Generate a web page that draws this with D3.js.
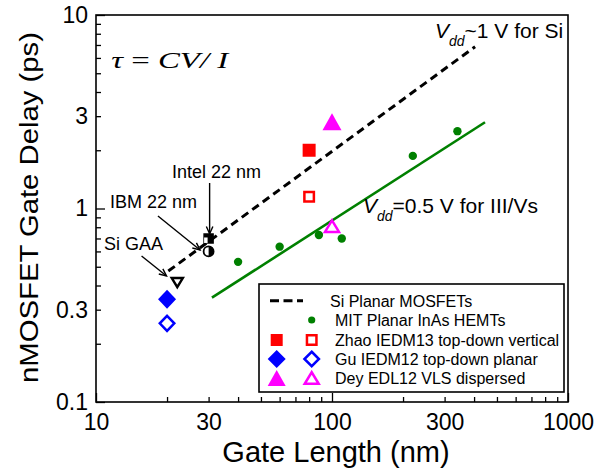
<!DOCTYPE html>
<html><head><meta charset="utf-8">
<script src="https://cdn.jsdelivr.net/npm/d3@7"></script>
<style>
body{margin:0;background:#fff}
svg{display:block}
text{font-family:"Liberation Sans",Arial,sans-serif;fill:#000}
text.serif{font-family:"Liberation Serif","Times New Roman",serif}
</style>
</head><body>
<svg id="chart" width="605" height="472"></svg>
<script>
// ---------- data ----------
const xTickLabels = [10, 30, 100, 300, 1000];
const yTickLabels = [0.1, 0.3, 1, 3, 10];

const mitLength = [40, 60, 88, 110, 220, 340];
const mitDelay  = [0.53, 0.635, 0.73, 0.70, 1.87, 2.51];

const siTrendLength = [20.25, 404];
const siTrendDelay  = [0.475, 6.86];

const mitFitLength = [31, 445];
const mitFitDelay  = [0.346, 2.79];

const siDeviceNames  = ["Intel 22 nm", "IBM 22 nm", "Si GAA"];
const siDeviceLength = [30, 30, 22.1];
const siDeviceDelay  = [0.70, 0.60, 0.414];

const zhaoLength = [80];  const zhaoFilled = [2.0];  const zhaoOpen = [1.15];
const guLength   = [20];  const guFilled   = [0.34]; const guOpen   = [0.255];
const deyLength  = [100]; const deyFilled  = [2.81]; const deyOpen  = [0.81];

const legendLabels = ["Si Planar MOSFETs", "MIT Planar InAs HEMTs",
  "Zhao IEDM13 top-down vertical", "Gu IEDM12 top-down planar", "Dey EDL12 VLS dispersed"];

// ---------- setup ----------
const svg = d3.select("#chart");
const L = 96, R = 568, T = 15, B = 402;
const x = d3.scaleLog().domain([10, 1000]).range([L, R]);
const y = d3.scaleLog().domain([0.1, 10]).range([B, T]);

const RED = "#ff0000", BLUE = "#0000ff", MAG = "#ff00ff", GREEN = "#008000";

// ticks
const xAll = [], yAll = [];
[10, 100].forEach(d => { for (let k = 1; k < 10; k++) xAll.push(d * k); });
xAll.push(1000);
[0.1, 1].forEach(d => { for (let k = 1; k < 10; k++) yAll.push(+(d * k).toFixed(2)); });
yAll.push(10);
const isMajor = v => Math.abs(Math.log10(v) - Math.round(Math.log10(v))) < 1e-9;

const xAxis = d3.axisBottom(x).tickValues(xAll).tickSizeInner(-5).tickSizeOuter(0).tickPadding(11.5)
  .tickFormat(v => xTickLabels.some(t => Math.abs(t - v) < 1e-9) ? String(v) : "");
const gx = svg.append("g").attr("transform", `translate(0,${B})`).call(xAxis);
gx.select(".domain").remove();
gx.selectAll(".tick line").attr("stroke", "#000").attr("stroke-width", 1.3)
  .attr("y2", d => isMajor(d) ? -9 : -5);
gx.selectAll(".tick text").attr("font-size", 23);

const yAxis = d3.axisLeft(y).tickValues(yAll).tickSizeInner(-5).tickSizeOuter(0).tickPadding(8)
  .tickFormat(v => yTickLabels.some(t => Math.abs(t - v) < 1e-9) ? String(v) : "");
const gy = svg.append("g").attr("transform", `translate(${L},0)`).call(yAxis);
gy.select(".domain").remove();
gy.selectAll(".tick line").attr("stroke", "#000").attr("stroke-width", 1.3)
  .attr("x2", d => isMajor(d) ? 9 : 5);
gy.selectAll(".tick text").attr("font-size", 23);

// frame
svg.append("rect").attr("x", L).attr("y", T).attr("width", R - L).attr("height", B - T)
  .attr("fill", "none").attr("stroke", "#000").attr("stroke-width", 1.6);

// axis titles
svg.append("text").attr("x", (L + R) / 2 + 4).attr("y", 462).attr("text-anchor", "middle")
  .attr("font-size", 29).text("Gate Length (nm)");
svg.append("text").attr("transform", "translate(38,207.5) rotate(-90)").attr("text-anchor", "middle")
  .attr("font-size", 25).attr("textLength", 351).attr("lengthAdjust", "spacingAndGlyphs")
  .text("nMOSFET Gate Delay (ps)");

// ---------- shapes ----------
const tri = (w, h, up) => up
  ? `M0,${-h/2}L${w/2},${h/2}L${-w/2},${h/2}Z`
  : `M0,${h/2}L${w/2},${-h/2}L${-w/2},${-h/2}Z`;
const dia = (w, h) => `M0,${-h/2}L${w/2},0L0,${h/2}L${-w/2},0Z`;
const sq = s => `M${-s/2},${-s/2}H${s/2}V${s/2}H${-s/2}Z`;

// lines
const line = d3.line().x(d => x(d[0])).y(d => y(d[1]));
svg.append("path").datum(siTrendLength.map((l, i) => [l, siTrendDelay[i]]))
  .attr("d", line).attr("fill", "none").attr("stroke", "#000").attr("stroke-width", 3)
  .attr("stroke-dasharray", "8,5");
svg.append("path").datum(mitFitLength.map((l, i) => [l, mitFitDelay[i]]))
  .attr("d", line).attr("fill", "none").attr("stroke", GREEN).attr("stroke-width", 2.6);

// MIT points
svg.append("g").selectAll("circle").data(mitLength).join("circle")
  .attr("cx", d => x(d)).attr("cy", (d, i) => y(mitDelay[i])).attr("r", 4.2).attr("fill", GREEN);

// Zhao
svg.append("g").selectAll("path").data(zhaoLength).join("path")
  .attr("transform", (d, i) => `translate(${x(d)},${y(zhaoFilled[i])})`).attr("d", sq(13)).attr("fill", RED);
svg.append("g").selectAll("path").data(zhaoLength).join("path")
  .attr("transform", (d, i) => `translate(${x(d)},${y(zhaoOpen[i])})`).attr("d", sq(9.5))
  .attr("fill", "#fff").attr("stroke", RED).attr("stroke-width", 2.5);
// Gu
svg.append("g").selectAll("path").data(guLength).join("path")
  .attr("transform", (d, i) => `translate(${x(d)},${y(guFilled[i])})`).attr("d", dia(18, 19)).attr("fill", BLUE);
svg.append("g").selectAll("path").data(guLength).join("path")
  .attr("transform", (d, i) => `translate(${x(d)},${y(guOpen[i])})`).attr("d", dia(14.5, 15))
  .attr("fill", "#fff").attr("stroke", BLUE).attr("stroke-width", 2.5);
// Dey
svg.append("g").selectAll("path").data(deyLength).join("path")
  .attr("transform", (d, i) => `translate(${x(d)},${y(deyFilled[i])})`).attr("d", tri(19, 17, true)).attr("fill", MAG);
svg.append("g").selectAll("path").data(deyLength).join("path")
  .attr("transform", (d, i) => `translate(${x(d)},${y(deyOpen[i])})`).attr("d", tri(14, 11.5, true))
  .attr("fill", "#fff").attr("stroke", MAG).attr("stroke-width", 2.5);

// Si devices
// Intel: half-filled square
{
  const cx = x(siDeviceLength[0]), cy = y(siDeviceDelay[0]);
  const g = svg.append("g").attr("transform", `translate(${cx},${cy})`);
  g.append("path").attr("d", sq(9)).attr("fill", "#000").attr("stroke", "#000").attr("stroke-width", 1.5);
  g.append("rect").attr("x", -4.5).attr("y", -1).attr("width", 3.5).attr("height", 5.5).attr("fill", "#fff");
}
// IBM: half-filled circle
{
  const cx = x(siDeviceLength[1]), cy = y(siDeviceDelay[1]);
  const g = svg.append("g").attr("transform", `translate(${cx},${cy})`);
  g.append("circle").attr("r", 5).attr("fill", "#fff").attr("stroke", "#000").attr("stroke-width", 1.8);
  g.append("path").attr("d", "M0,-5A5,5 0 0 1 0,5Z").attr("fill", "#000");
}
// Si GAA: open down triangle
svg.append("path").attr("transform", `translate(${x(siDeviceLength[2])},${y(siDeviceDelay[2])})`)
  .attr("d", tri(11, 9, false)).attr("fill", "#fff").attr("stroke", "#000").attr("stroke-width", 2.5);

// ---------- annotations ----------
function arrow(x1, y1, x2, y2) {
  const X1 = x(x1), Y1 = y(y1), X2 = x(x2), Y2 = y(y2);
  const a = Math.atan2(Y2 - Y1, X2 - X1), len = 8, sp = 0.42;
  const g = svg.append("g").attr("stroke", "#000").attr("stroke-width", 1.4).attr("fill", "none");
  g.append("line").attr("x1", X1).attr("y1", Y1).attr("x2", X2).attr("y2", Y2);
  g.append("path").attr("d",
    `M${X2 - len * Math.cos(a - sp)},${Y2 - len * Math.sin(a - sp)}L${X2},${Y2}L${X2 - len * Math.cos(a + sp)},${Y2 - len * Math.sin(a + sp)}`);
}
svg.append("text").attr("x", x(21.0)).attr("y", y(1.44)).attr("font-size", 18).text(siDeviceNames[0]);
svg.append("text").attr("x", x(11.46)).attr("y", y(1.006)).attr("font-size", 18).text(siDeviceNames[1]);
svg.append("text").attr("x", x(10.8)).attr("y", y(0.61)).attr("font-size", 18).text(siDeviceNames[2]);
arrow(30.3, 1.355, 30.3, 0.74);
arrow(18.3, 0.915, 27.6, 0.61);
arrow(15.6, 0.568, 19.9, 0.448);

// tau = CV/I
{
  const t = svg.append("text").attr("class", "serif").attr("x", x(11.6)).attr("y", y(5.3)).attr("font-size", 24)
    .attr("textLength", 117).attr("lengthAdjust", "spacingAndGlyphs");
  t.append("tspan").attr("font-style", "italic").text("τ");
  t.append("tspan").text(" = ");
  t.append("tspan").attr("font-style", "italic").text("CV/ I");
}

// Vdd labels
function vdd(xv, yv, rest) {
  const t = svg.append("text").attr("x", x(xv)).attr("y", y(yv)).attr("font-size", 21);
  t.append("tspan").attr("font-style", "italic").text("V");
  t.append("tspan").attr("font-style", "italic").attr("font-size", 14).attr("dy", 8).text("dd");
  t.append("tspan").attr("dy", -8).text(rest);
}
vdd(273, 7.61, "~1 V for Si");
vdd(135.3, 0.948, "=0.5 V for III/Vs");

// ---------- legend ----------
const lg = svg.append("g");
lg.append("rect").attr("x", 259).attr("y", 284).attr("width", 305).attr("height", 108)
  .attr("fill", "#fff").attr("stroke", "#000").attr("stroke-width", 1.6);
const rowY = [300.7, 320, 340, 359, 378];
const c1 = 276.7, c2 = 311.7;
lg.append("line").attr("x1", 270).attr("x2", 303).attr("y1", rowY[0]).attr("y2", rowY[0])
  .attr("stroke", "#000").attr("stroke-width", 3).attr("stroke-dasharray", "9,4.5");
lg.append("circle").attr("cx", c2).attr("cy", rowY[1]).attr("r", 3.6).attr("fill", GREEN);
lg.append("path").attr("transform", `translate(${c1},${rowY[2]})`).attr("d", sq(12)).attr("fill", RED);
lg.append("path").attr("transform", `translate(${c2},${rowY[2]})`).attr("d", sq(9.5))
  .attr("fill", "#fff").attr("stroke", RED).attr("stroke-width", 2.5);
lg.append("path").attr("transform", `translate(${c1},${rowY[3]})`).attr("d", dia(18, 18)).attr("fill", BLUE);
lg.append("path").attr("transform", `translate(${c2},${rowY[3]})`).attr("d", dia(14.5, 14.5))
  .attr("fill", "#fff").attr("stroke", BLUE).attr("stroke-width", 2.5);
lg.append("path").attr("transform", `translate(${c1},${rowY[4]})`).attr("d", tri(18, 16, true)).attr("fill", MAG);
lg.append("path").attr("transform", `translate(${c2},${rowY[4]})`).attr("d", tri(14, 11.5, true))
  .attr("fill", "#fff").attr("stroke", MAG).attr("stroke-width", 2.5);
lg.selectAll("text.lab").data(legendLabels).join("text").attr("class", "lab")
  .attr("x", (d, i) => i === 0 ? 330 : 335).attr("y", (d, i) => rowY[i] + 5.8)
  .attr("font-size", 16).text(d => d);
</script>
</body></html>
